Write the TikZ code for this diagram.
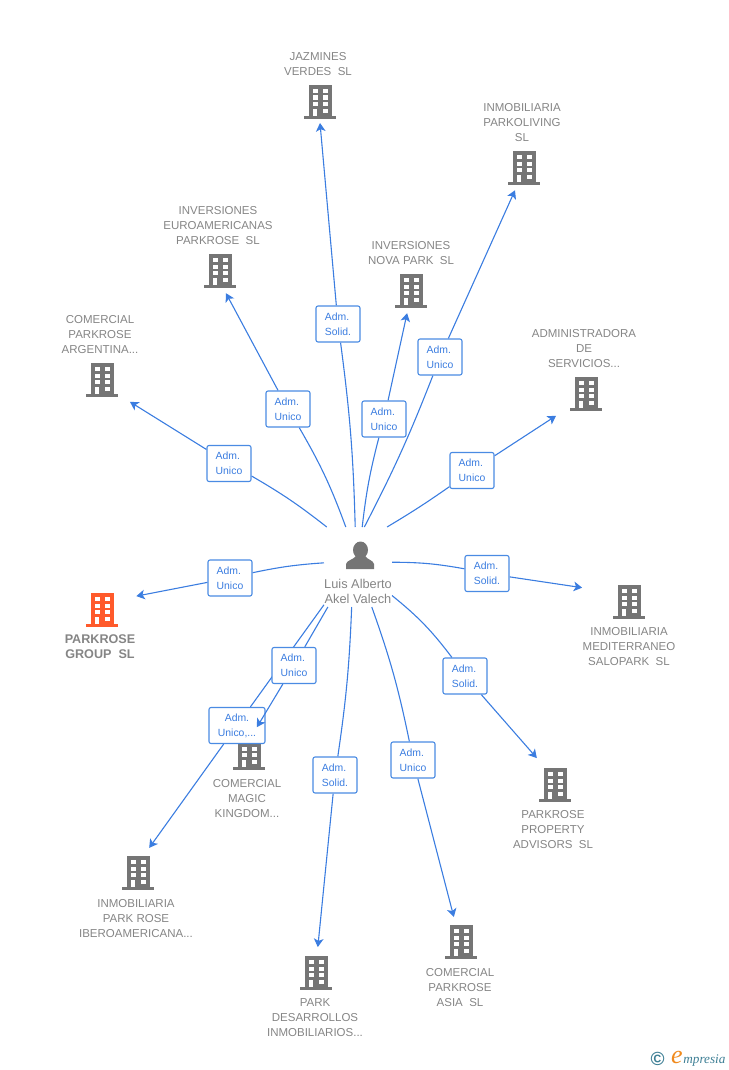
\documentclass[tikz,border=0pt]{standalone}
\usepackage{fontspec}
\setmainfont{Liberation Sans}
\newfontfamily\logofont{Liberation Serif}
\usepackage{xcolor}
\usetikzlibrary{arrows.meta, backgrounds}

\definecolor{linkblue}{HTML}{3B7DE0}
\definecolor{boxblue}{HTML}{4A8BE3}
\definecolor{bldgray}{HTML}{757575}
\definecolor{lblgray}{HTML}{858585}
\definecolor{bldorange}{HTML}{FF5A2B}
\definecolor{logoteal}{HTML}{3E7F95}
\definecolor{logoorange}{HTML}{F08A1D}

\tikzset{
    link/.style={linkblue, line width=0.55pt},
    arrowlink/.style={link, -{Stealth[length=4.2pt,width=4.8pt,inset=1.1pt]}},
    admbox/.style={draw=boxblue, fill=white, line width=0.55pt, rounded corners=1pt, inner sep=0pt,
        minimum width=22pt, minimum height=18pt, align=left, text=linkblue,
        font=\fontsize{5.2}{7.5}\selectfont},
    lbl/.style={align=center, inner sep=0pt, text=lblgray, font=\fontsize{5.75}{7.5}\selectfont},
    tip/.style={circle, inner sep=0pt, outer sep=0pt, minimum size=#1*0.5pt},
    hub/.style={rectangle, inner sep=0pt, outer sep=0pt, minimum width=34pt, minimum height=40pt},
    bldg/.pic={
        \fill[pic actions] (-11.5,-17) rectangle (11.5,15);
        \fill[pic actions] (-16,14) rectangle (16,17);
        \fill[white] (-7.5,-13) rectangle (-2.5,-8.8);
        \fill[white] (2.5,-13) rectangle (7.5,-8.8);
        \fill[white] (-7.5,-6.5) rectangle (-2.5,-2.3);
        \fill[white] (2.5,-6.5) rectangle (7.5,-2.3);
        \fill[white] (-7.5,0) rectangle (-2.5,4.2);
        \fill[white] (2.5,0) rectangle (7.5,4.2);
        \fill[white] (-7.2,6.8) rectangle (-3,14);
        \fill[white] (2.5,6.8) rectangle (7.5,11);
    }
}

\begin{document}
\begin{tikzpicture}[x=0.5pt, y=-0.5pt]
        \useasboundingbox (0,0) rectangle (728,1070); % same frame as the reference

        % Person in the middle
        \node[hub] (person) at (358,567) {};
        \fill[bldgray] (360.5,550) ellipse (7.5 and 8.5); % head
        \fill[bldgray] (346,569) -- (346,564) .. controls (347,560) and (353,560) .. (356,556)
            -- (365,556) .. controls (368,560) and (373,560) .. (374,564) -- (374,569) -- cycle; % shoulders
        \node[lbl, font=\fontsize{6.4}{7.5}\selectfont] (personlbl) at (358,591) {Luis Alberto\\Akel Valech};

        % Companies, each circle is as wide as the gap left round its icon
        \node[tip=42] (jazmines) at (320,102) {};
        \node[tip=48] (parkoliving) at (524,168) {};
        \node[tip=46] (euro) at (220,271) {};
        \node[tip=45] (nova) at (411,291) {};
        \node[tip=71] (argentina) at (102,380) {};
        \node[tip=74] (admin) at (586,394) {};
        \node[tip=74] (group) at (102,610) {};
        \node[tip=98] (salopark) at (629,602) {};
        \node[tip=65] (property) at (555,785) {};
        \node[tip=54] (magic) at (249,753) {};
        \node[tip=55] (iberoamericana) at (138,873) {};
        \node[tip=52] (desarrollos) at (316,973) {};
        \node[tip=52] (asia) at (461,942) {};

        \pic[fill=bldgray] at (jazmines) {bldg};
        \pic[fill=bldgray] at (parkoliving) {bldg};
        \pic[fill=bldgray] at (euro) {bldg};
        \pic[fill=bldgray] at (nova) {bldg};
        \pic[fill=bldgray] at (argentina) {bldg};
        \pic[fill=bldgray] at (admin) {bldg};
        \pic[fill=bldorange] at (group) {bldg}; % the company in focus
        \pic[fill=bldgray] at (salopark) {bldg};
        \pic[fill=bldgray] at (property) {bldg};
        \pic[fill=bldgray] at (magic) {bldg};
        \pic[fill=bldgray] at (iberoamericana) {bldg};
        \pic[fill=bldgray] at (desarrollos) {bldg};
        \pic[fill=bldgray] at (asia) {bldg};

        % Company names
        \node[lbl] (jazmineslbl) at (318,64.5) {JAZMINES\\VERDES\ \ SL};
        \node[lbl] (parkolivinglbl) at (522,123) {INMOBILIARIA\\PARKOLIVING\\SL};
        \node[lbl] (eurolbl) at (218,226) {INVERSIONES\\EUROAMERICANAS\\PARKROSE\ \ SL};
        \node[lbl] (novalbl) at (411,253.5) {INVERSIONES\\NOVA PARK\ \ SL};
        \node[lbl] (argentinalbl) at (100,335) {COMERCIAL\\PARKROSE\\ARGENTINA...};
        \node[lbl] (adminlbl) at (584,349) {ADMINISTRADORA\\DE\\SERVICIOS...};
        \node[lbl, font=\fontsize{6.3}{7.5}\selectfont\bfseries] (grouplbl) at (100,646.5) {PARKROSE\\GROUP\ \ SL};
        \node[lbl] (saloparklbl) at (629,647) {INMOBILIARIA\\MEDITERRANEO\\SALOPARK\ \ SL};
        \node[lbl] (propertylbl) at (553,830) {PARKROSE\\PROPERTY\\ADVISORS\ \ SL};
        \node[lbl] (magiclbl) at (247,799) {COMERCIAL\\MAGIC\\KINGDOM...};
        \node[lbl] (iberoamericanalbl) at (136,919) {INMOBILIARIA\\PARK ROSE\\IBEROAMERICANA...};
        \node[lbl] (desarrolloslbl) at (315,1018) {PARK\\DESARROLLOS\\INMOBILIARIOS...};
        \node[lbl] (asialbl) at (460,988) {COMERCIAL\\PARKROSE\\ASIA\ \ SL};

        % Role boxes
        \node[admbox] (boxjazmines) at (338,324) {Adm.\\Solid.};
        \node[admbox] (boxparkoliving) at (440,357) {Adm.\\Unico};
        \node[admbox] (boxeuro) at (288,409) {Adm.\\Unico};
        \node[admbox] (boxnova) at (384,419) {Adm.\\Unico};
        \node[admbox] (boxargentina) at (229,463.5) {Adm.\\Unico};
        \node[admbox] (boxadmin) at (472,470.5) {Adm.\\Unico};
        \node[admbox] (boxgroup) at (230,578) {Adm.\\Unico};
        \node[admbox] (boxsalopark) at (487,573.5) {Adm.\\Solid.};
        \node[admbox] (boxproperty) at (465,676) {Adm.\\Solid.};
        \node[admbox] (boxmagic) at (294,665.5) {Adm.\\Unico};
        \node[admbox, minimum width=28pt, align=center] (boxiberoamericana) at (237,725.5) {Adm.\\Unico,...};
        \node[admbox] (boxdesarrollos) at (335,775) {Adm.\\Solid.};
        \node[admbox] (boxasia) at (413,760) {Adm.\\Unico};

        % Connectors run under the boxes
        \begin{scope}[on background layer]
            \draw[link] (person.94) to[bend right=3] (boxjazmines);
            \draw[arrowlink] (boxjazmines) -- (jazmines.270);
            \draw[link] (person.81.5) to[bend right=3] (boxparkoliving);
            \draw[arrowlink] (boxparkoliving) -- (parkoliving.248);
            \draw[link] (person.107) to[bend right=5] (boxeuro);
            \draw[arrowlink] (boxeuro) -- (euro.285);
            \draw[link] (person.84) to[bend left=4] (boxnova);
            \draw[arrowlink] (boxnova) -- (nova.260);
            \draw[link] (person.128) to[bend right=4] (boxargentina);
            \draw[arrowlink] (boxargentina) -- (argentina.322);
            \draw[link] (person.54) to[bend right=2] (boxadmin);
            \draw[arrowlink] (boxadmin) -- (admin.216);
            \draw[link] (person.173) to[bend right=4] (boxgroup);
            \draw[arrowlink] (boxgroup) -- (group.22);
            \draw[link] (person.8) to[bend left=5] (boxsalopark);
            \draw[arrowlink] (boxsalopark) -- (salopark.163);
            \draw[link] (person.320) to[bend left=7] (boxproperty);
            \draw[arrowlink] (boxproperty) -- (property.124);
            \draw[link] (person.233) -- (boxmagic);
            \draw[link] (person.228) -- (boxiberoamericana);
            \draw[arrowlink] (boxiberoamericana) -- (iberoamericana.66);
            \draw[link] (person.261.5) to[bend left=3] (boxdesarrollos);
            \draw[arrowlink] (boxdesarrollos) -- (desarrollos.86);
            \draw[link] (person.289) to[bend left=4] (boxasia);
            \draw[arrowlink] (boxasia) -- (asia.106);
        \end{scope}
        \draw[arrowlink] (boxmagic) -- (magic.73); % this one stays over the lower box

        % Logo
        \node[inner sep=0pt, text=logoteal, font=\fontsize{9.5}{9.5}\selectfont\bfseries] (logomark) at (657.5,1059) {\textcopyright};
        \node[inner sep=0pt, anchor=base west, text=logoteal, font=\logofont\itshape\fontsize{6.6}{7}\selectfont] (logotext) at (683,1063) {mpresia};
        \node[inner sep=0pt, anchor=base east, text=logoorange, font=\logofont\itshape\fontsize{13}{13}\selectfont] (logoe) at (logotext.base west) {e};
    \end{tikzpicture}
\end{document}
